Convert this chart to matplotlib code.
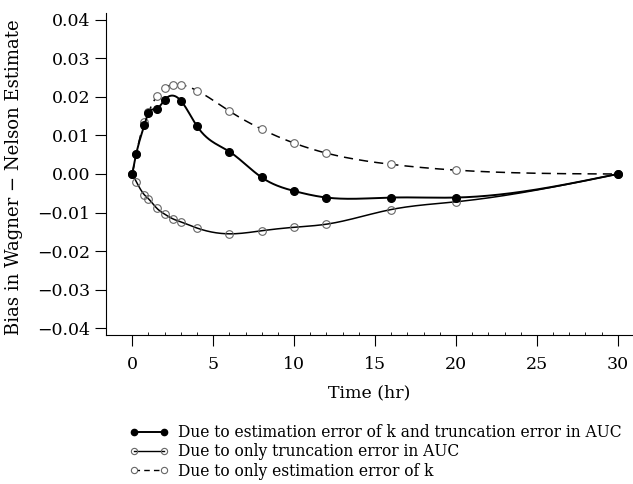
import numpy as np
import matplotlib
matplotlib.use("Agg")
import matplotlib.pyplot as plt
from matplotlib.lines import Line2D

# data
t_both = [0, 0.25, 0.75, 1, 1.5, 2, 3, 4, 6, 8, 10, 12, 16, 20, 30]
bias_both = [0.0, 0.0053, 0.0127, 0.0158, 0.0168, 0.0192, 0.0190, 0.0124,
             0.0058, -0.0009, -0.0044, -0.0061, -0.0061, -0.0061, 0.0]

t_trunc = [0, 0.25, 0.75, 1, 1.5, 2, 2.5, 3, 4, 6, 8, 10, 12, 16, 20, 30]
bias_trunc = [0.0, -0.0020, -0.0054, -0.0064, -0.0088, -0.0104, -0.0116, -0.0124,
              -0.0140, -0.0155, -0.0147, -0.0138, -0.0130, -0.0092, -0.0072, 0.0]

t_k = [0, 0.25, 0.75, 1, 1.5, 2, 2.5, 3, 4, 6, 8, 10, 12, 16, 20, 30]
bias_k = [0.0, 0.0052, 0.0135, 0.0160, 0.0201, 0.0223, 0.0231, 0.0231,
          0.0216, 0.0163, 0.0116, 0.0080, 0.0054, 0.0025, 0.0010, 0.0]

labels = ["Due to estimation error of k and truncation error in AUC",
          "Due to only truncation error in AUC",
          "Due to only estimation error of k"]

xticks = [0, 5, 10, 15, 20, 25, 30]
yticks = [0.04, 0.03, 0.02, 0.01, 0.0, -0.01, -0.02, -0.03, -0.04]
yticklabels = ["0.04", "0.03", "0.02", "0.01", "0.00",
               "\u22120.01", "\u22120.02", "\u22120.03", "\u22120.04"]


def spline(x, y, n=400):
    # natural cubic spline, evaluated on a dense grid
    x = np.asarray(x, float)
    y = np.asarray(y, float)
    m = len(x)
    h = np.diff(x)
    A = np.zeros((m, m))
    r = np.zeros(m)
    A[0, 0] = A[-1, -1] = 1
    for i in range(1, m - 1):
        A[i, i - 1] = h[i - 1]
        A[i, i] = 2 * (h[i - 1] + h[i])
        A[i, i + 1] = h[i]
        r[i] = 6 * ((y[i + 1] - y[i]) / h[i] - (y[i] - y[i - 1]) / h[i - 1])
    M = np.linalg.solve(A, r)
    xs = np.linspace(x[0], x[-1], n)
    k = np.clip(np.searchsorted(x, xs) - 1, 0, m - 2)
    a = x[k + 1] - xs
    b = xs - x[k]
    hk = h[k]
    ys = (M[k] * a**3 + M[k + 1] * b**3) / (6 * hk) \
        + (y[k] / hk - M[k] * hk / 6) * a + (y[k + 1] / hk - M[k + 1] * hk / 6) * b
    return xs, ys


plt.rcParams['font.family'] = ['DejaVu Serif']

fig = plt.figure(figsize=(6.33, 4.84), dpi=100)
ax = fig.add_axes([0.1675, 0.3079, 0.8315, 0.6652])

grey = '0.4'

xs, ys = spline(t_k, bias_k)
ax.plot(xs, ys, color='black', lw=1.1, dashes=(6, 4), zorder=2)
ax.plot(t_k, bias_k, ls='none', marker='o', ms=5.5, mfc='white', mec=grey, mew=0.8, zorder=3)

xs, ys = spline(t_trunc, bias_trunc)
ax.plot(xs, ys, color='black', lw=1.1, zorder=2)
ax.plot(t_trunc, bias_trunc, ls='none', marker='o', ms=5.5, mfc='none', mec=grey, mew=0.8, zorder=3)

xs, ys = spline(t_both, bias_both)
ax.plot(xs, ys, color='black', lw=1.4, zorder=4)
ax.plot(t_both, bias_both, ls='none', marker='o', ms=5.5, color='black', zorder=5)

ax.set_xlim(-1.62, 30.9)
ax.set_ylim(-0.0417, 0.0417)
ax.set_xticks(xticks)
ax.set_xticks(np.arange(0, 31, 1), minor=True)
ax.set_yticks(yticks)
ax.set_yticklabels(yticklabels)
ax.spines['top'].set_visible(False)
ax.spines['right'].set_visible(False)
ax.tick_params(axis='both', which='major', length=8, width=0.8, labelsize=12.5)
ax.tick_params(axis='x', which='major', pad=7)
ax.tick_params(axis='x', which='minor', direction='in', length=2.5, width=0.6)

ax.set_xlabel("Time (hr)", fontsize=12.5, labelpad=8)
ax.set_ylabel("Bias in Wagner \u2212 Nelson Estimate", fontsize=13)
ax.yaxis.set_label_coords(-0.158, 0.49)

handles = [
    Line2D([], [], color='black', lw=1.4, marker='o', ms=4.5, mfc='black', mec='black'),
    Line2D([], [], color='black', lw=1.0, marker='o', ms=4.5, mfc='none', mec=grey, mew=0.8),
    Line2D([], [], color='black', lw=1.0, dashes=(4, 3), marker='o', ms=4.5, mfc='white', mec=grey, mew=0.8),
]
fig.legend(handles, labels, loc='upper left', bbox_to_anchor=(0.205, 0.124),
           frameon=False, fontsize=11.2, numpoints=2, handlelength=2.5,
           handletextpad=0.6, labelspacing=0.15, borderpad=0, borderaxespad=0)

fig.savefig("out.png", dpi=100)
